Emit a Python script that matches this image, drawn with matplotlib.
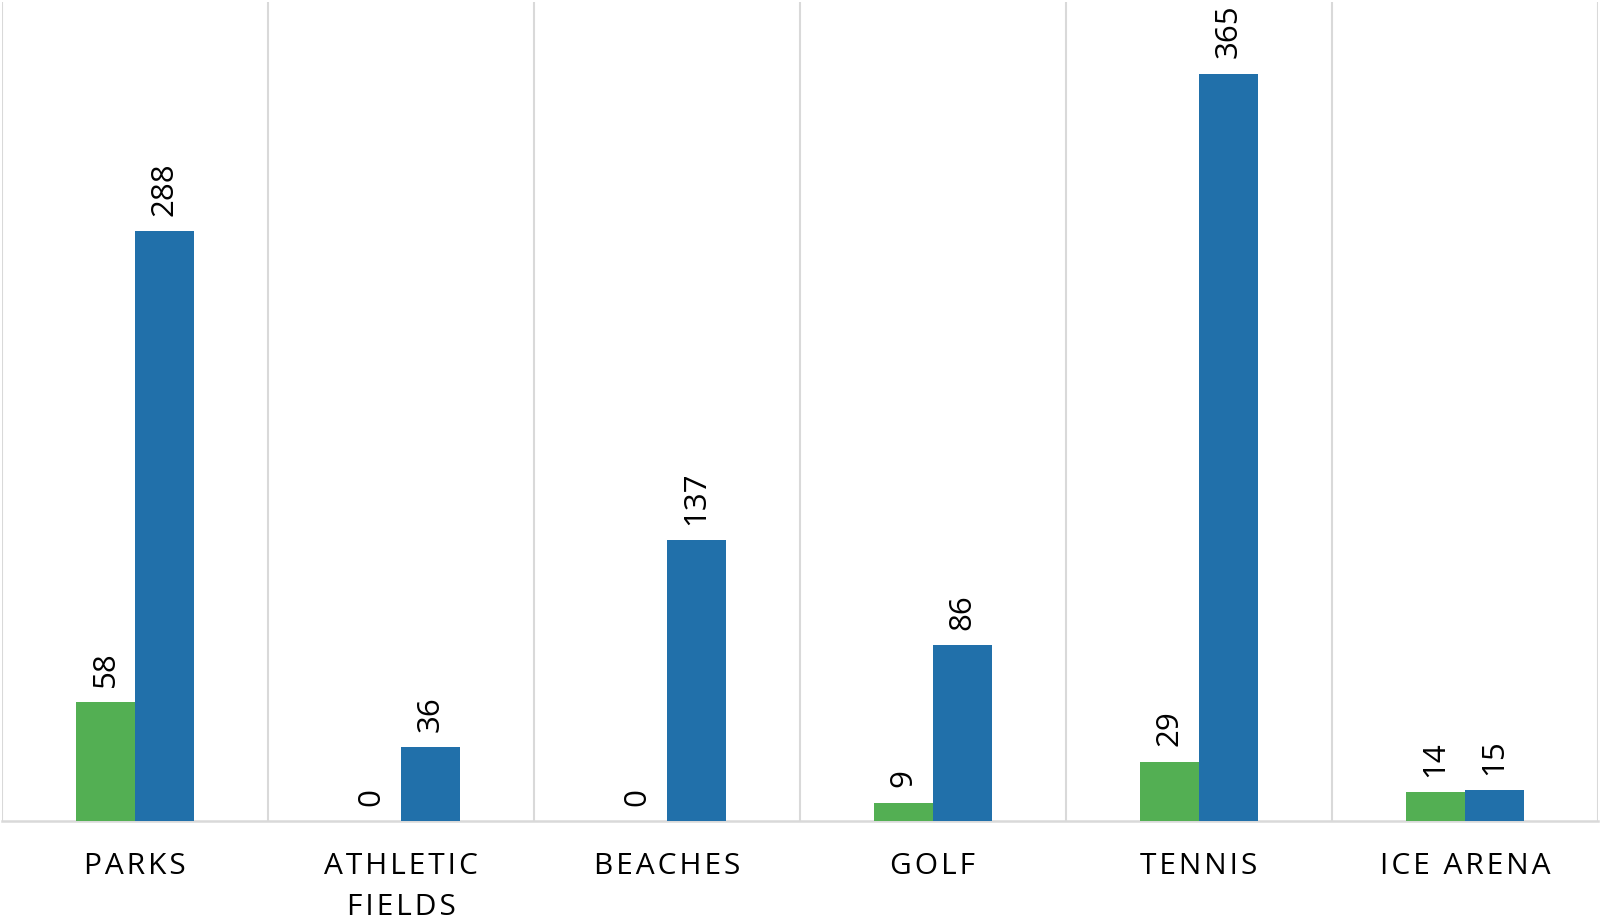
import numpy as np
import matplotlib
matplotlib.use("Agg")
import matplotlib.pyplot as plt

# chart data
categories = ["PARKS", "ATHLETIC\nFIELDS", "BEACHES", "GOLF", "TENNIS", "ICE ARENA"]
green_vals = [58, 0, 0, 9, 29, 14]
blue_vals = [288, 36, 137, 86, 365, 15]

GREEN = "#53AF53"
BLUE = "#2170AA"
GRID = "#D9D9D9"
FONT = ["Open Sans", "DejaVu Sans"]


def spaced(label):
    # imitate the wide letter spacing of the category labels
    return "\n".join("\u200a".join(line) for line in label.split("\n"))


def main():
    fig = plt.figure(figsize=(16, 9.23), dpi=100)
    ax = fig.add_axes([2 / 1600, 102 / 923, 1596 / 1600, 819 / 923])

    x = np.arange(len(categories))
    w = 0.222
    b1 = ax.bar(x - w / 2, green_vals, w, color=GREEN, zorder=3)
    b2 = ax.bar(x + w / 2, blue_vals, w, color=BLUE, zorder=3)

    for bars, vals in ((b1, green_vals), (b2, blue_vals)):
        for rect, v in zip(bars, vals):
            ax.annotate(str(v), (rect.get_x() + rect.get_width() / 2, v),
                        xytext=(0, 11), textcoords="offset points",
                        rotation=90, ha="center", va="bottom",
                        fontsize=22.5, family=FONT, color="black")

    ax.set_xlim(-0.5, len(categories) - 0.5)
    ax.set_ylim(0, 400)

    # vertical separators between categories
    for b in np.arange(-0.5, len(categories), 1.0):
        ax.axvline(b, color=GRID, lw=1.5, zorder=1)

    for s in ("top", "left", "right"):
        ax.spines[s].set_visible(False)
    ax.spines["bottom"].set_color(GRID)
    ax.spines["bottom"].set_linewidth(1.8)

    ax.set_yticks([])
    ax.set_xticks(x)
    ax.set_xticklabels([spaced(c) for c in categories], fontsize=21.5,
                       family=FONT, linespacing=1.55)
    ax.tick_params(axis="x", length=0, pad=22)

    fig.savefig("out.png", dpi=100, facecolor="white")


if __name__ == "__main__":
    main()
